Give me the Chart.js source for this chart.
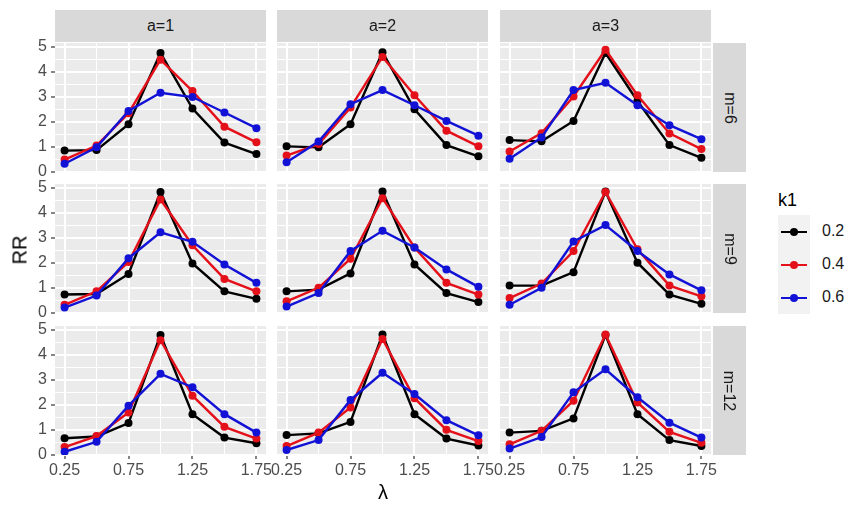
<!DOCTYPE html>
<html>
<head>
<meta charset="utf-8">
<script src="https://cdn.jsdelivr.net/npm/chart.js@4.4.1/dist/chart.umd.min.js"></script>
<style>
  body { margin: 0; background: #fff; font-family: "Liberation Sans", Arial, sans-serif; }
  #wrap { position: relative; width: 845px; height: 507px; overflow: hidden; }
  canvas { position: absolute; }
  .strip { position: absolute; background: #D9D9D9; color: #1A1A1A; font-size: 16px;
           display: flex; align-items: center; justify-content: center; }
  .strip.right span { transform: rotate(90deg); white-space: nowrap; }
  .title { position: absolute; color: #000; font-size: 20px; white-space: nowrap; }
  #ytitle { left: 20px; top: 250px; transform: translate(-50%, -50%) rotate(-90deg); }
  #xtitle { left: 383px; top: 492px; transform: translate(-50%, -50%); }
  #legend { position: absolute; left: 778px; top: 190px; }
  #legend .lt { font-size: 18px; color: #000; height: 25px; }
  #legend .keys { position: absolute; left: 0; top: 25px; width: 32px; height: 99px; background: #F2F2F2; }
  .key { position: absolute; left: 0; width: 32px; height: 33px; }
  .key .ln { position: absolute; left: 3px; right: 3px; top: 16px; height: 2px; }
  .key .pt { position: absolute; left: 12px; top: 13px; width: 8px; height: 8px; border-radius: 50%; }
  .key .lab { position: absolute; left: 44px; top: 7px; font-size: 16px; color: #1A1A1A; }
</style>
</head>
<body>
<div id="wrap"></div>
<script>
// facets and series
const lambda = [0.25, 0.5, 0.75, 1, 1.25, 1.5, 1.75];
const aLabels = ['a=1', 'a=2', 'a=3'];
const mLabels = ['m=6', 'm=9', 'm=12'];
const k1Labels = ['0.2', '0.4', '0.6'];
const k1Colors = ['#000000', '#E4101A', '#1212D6'];

// RR for each panel: [k1=0.2, k1=0.4, k1=0.6]
const rr_m6_a1 = [
  [0.84, 0.86, 1.90, 4.76, 2.53, 1.16, 0.70],
  [0.48, 1.04, 2.34, 4.49, 3.23, 1.80, 1.17],
  [0.31, 0.97, 2.43, 3.16, 2.99, 2.37, 1.74]
];
const rr_m6_a2 = [
  [1.01, 0.97, 1.90, 4.79, 2.50, 1.06, 0.61],
  [0.64, 1.10, 2.57, 4.60, 3.06, 1.64, 1.01],
  [0.37, 1.20, 2.70, 3.27, 2.66, 2.03, 1.44]
];
const rr_m6_a3 = [
  [1.26, 1.21, 2.03, 4.76, 2.83, 1.06, 0.55],
  [0.80, 1.54, 3.01, 4.89, 3.06, 1.53, 0.90],
  [0.51, 1.37, 3.27, 3.56, 2.66, 1.86, 1.30]
];
const rr_m9_a1 = [
  [0.72, 0.74, 1.55, 4.84, 1.97, 0.85, 0.55],
  [0.31, 0.85, 2.03, 4.54, 2.70, 1.35, 0.85],
  [0.20, 0.68, 2.18, 3.22, 2.84, 1.93, 1.19]
];
const rr_m9_a2 = [
  [0.85, 0.92, 1.57, 4.86, 1.93, 0.78, 0.42],
  [0.45, 0.99, 2.16, 4.59, 2.61, 1.19, 0.72],
  [0.24, 0.78, 2.47, 3.28, 2.61, 1.73, 1.03]
];
const rr_m9_a3 = [
  [1.08, 1.08, 1.62, 4.86, 2.00, 0.72, 0.35],
  [0.58, 1.16, 2.47, 4.84, 2.54, 1.08, 0.65],
  [0.31, 0.99, 2.85, 3.51, 2.47, 1.53, 0.89]
];
const rr_m12_a1 = [
  [0.65, 0.72, 1.26, 4.80, 1.62, 0.68, 0.45],
  [0.30, 0.74, 1.69, 4.59, 2.36, 1.11, 0.64],
  [0.11, 0.51, 1.96, 3.24, 2.70, 1.62, 0.88]
];
const rr_m12_a2 = [
  [0.78, 0.85, 1.31, 4.82, 1.62, 0.64, 0.36],
  [0.34, 0.88, 1.89, 4.64, 2.26, 0.99, 0.54],
  [0.18, 0.58, 2.19, 3.28, 2.43, 1.38, 0.77]
];
const rr_m12_a3 = [
  [0.88, 0.95, 1.45, 4.80, 1.62, 0.58, 0.34],
  [0.41, 0.95, 2.16, 4.82, 2.09, 0.91, 0.47],
  [0.24, 0.70, 2.50, 3.42, 2.30, 1.28, 0.68]
];
const panels = [
  [rr_m6_a1, rr_m6_a2, rr_m6_a3],
  [rr_m9_a1, rr_m9_a2, rr_m9_a3],
  [rr_m12_a1, rr_m12_a2, rr_m12_a3]
];

// layout (px)
const colLeft = [55, 277, 500];
const rowTop = [43, 184, 326];
const panelW = 211, panelH = 129;
const yAxisW = 55, xAxisH = 32;
const M = 18; // spare room round each canvas so tick labels are not cut
const FONT = '"Liberation Sans", Arial, sans-serif';

const wrap = document.getElementById('wrap');

const isMajorX = v => Math.abs((v - 0.25) / 0.5 - Math.round((v - 0.25) / 0.5)) < 1e-6;
const isMajorY = v => Math.abs(v - Math.round(v)) < 1e-6;

const panelBg = {
  id: 'panelBg',
  beforeDraw(chart) {
    const { ctx, chartArea: a } = chart;
    ctx.save();
    ctx.fillStyle = '#EBEBEB';
    ctx.fillRect(a.left, a.top, a.right - a.left, a.bottom - a.top);
    ctx.restore();
  }
};

function makePanel(r, c) {
  const leftCol = c === 0, bottomRow = r === 2;
  const cv = document.createElement('canvas');
  const w = panelW + (leftCol ? yAxisW : 0) + 2 * M;
  const h = panelH + (bottomRow ? xAxisH : 0) + 2 * M;
  cv.width = w; cv.height = h;
  cv.style.width = w + 'px'; cv.style.height = h + 'px';
  cv.style.left = (colLeft[c] - (leftCol ? yAxisW : 0) - M) + 'px';
  cv.style.top = (rowTop[r] - M) + 'px';
  wrap.appendChild(cv);

  const datasets = panels[r][c].map((vals, i) => ({
    label: k1Labels[i],
    data: lambda.map((x, j) => ({ x, y: vals[j] })),
    borderColor: k1Colors[i],
    backgroundColor: k1Colors[i],
    pointBackgroundColor: k1Colors[i],
    borderWidth: 2.4,
    pointRadius: 4,
    pointBorderWidth: 0,
    tension: 0,
    order: 3 - i
  }));

  new Chart(cv, {
    type: 'line',
    data: { datasets },
    options: {
      responsive: false,
      animation: false,
      layout: { padding: M, autoPadding: false },
      plugins: { legend: { display: false }, tooltip: { enabled: false } },
      scales: {
        x: {
          type: 'linear', min: 0.175, max: 1.825,
          border: { display: false },
          grid: {
            color: '#FFFFFF',
            lineWidth: ctx => isMajorX(ctx.tick.value) ? 2 : 1,
            drawTicks: bottomRow,
            tickLength: 4,
            tickWidth: 1.2,
            tickColor: ctx => isMajorX(ctx.tick.value) ? '#333333' : 'rgba(0,0,0,0)'
          },
          ticks: {
            display: bottomRow, stepSize: 0.25, includeBounds: false,
            autoSkip: false, maxRotation: 0, minRotation: 0, padding: 2,
            color: '#4D4D4D', font: { size: 16, family: FONT },
            callback: v => isMajorX(v) ? v.toFixed(2) : ''
          },
          afterFit: s => { s.height = bottomRow ? xAxisH : 0; s.paddingLeft = 0; s.paddingRight = 0; }
        },
        y: {
          type: 'linear', min: -0.02, max: 5.16,
          border: { display: false },
          grid: {
            color: '#FFFFFF',
            lineWidth: ctx => isMajorY(ctx.tick.value) ? 2 : 1,
            drawTicks: leftCol,
            tickLength: 4,
            tickWidth: 1.2,
            tickColor: ctx => isMajorY(ctx.tick.value) ? '#333333' : 'rgba(0,0,0,0)'
          },
          ticks: {
            display: leftCol, stepSize: 0.5, includeBounds: false,
            autoSkip: false, padding: 4,
            color: '#4D4D4D', font: { size: 16, family: FONT },
            callback: v => isMajorY(v) ? String(Math.round(v)) : ''
          },
          afterFit: s => { s.width = leftCol ? yAxisW : 0; s.paddingTop = 0; s.paddingBottom = 0; }
        }
      }
    },
    plugins: [panelBg]
  });
}

for (let r = 0; r < 3; r++) for (let c = 0; c < 3; c++) makePanel(r, c);

// strips
aLabels.forEach((t, c) => {
  const d = document.createElement('div');
  d.className = 'strip';
  Object.assign(d.style, { left: colLeft[c] + 'px', top: '10px', width: panelW + 'px', height: '32px' });
  d.textContent = t;
  wrap.appendChild(d);
});
mLabels.forEach((t, r) => {
  const d = document.createElement('div');
  d.className = 'strip right';
  Object.assign(d.style, { left: '713px', top: rowTop[r] + 'px', width: '33px', height: panelH + 'px' });
  d.innerHTML = '<span>' + t + '</span>';
  wrap.appendChild(d);
});

// axis titles
const yt = document.createElement('div');
yt.className = 'title'; yt.id = 'ytitle'; yt.textContent = 'RR';
wrap.appendChild(yt);
const xt = document.createElement('div');
xt.className = 'title'; xt.id = 'xtitle'; xt.textContent = 'λ';
wrap.appendChild(xt);

// legend
const lg = document.createElement('div');
lg.id = 'legend';
let html = '<div class="lt">k1</div><div class="keys">';
k1Labels.forEach((lab, i) => {
  html += '<div class="key" style="top:' + (i * 33) + 'px">' +
    '<div class="ln" style="background:' + k1Colors[i] + '"></div>' +
    '<div class="pt" style="background:' + k1Colors[i] + '"></div>' +
    '<div class="lab">' + lab + '</div></div>';
});
html += '</div>';
lg.innerHTML = html;
wrap.appendChild(lg);
</script>
</body>
</html>
